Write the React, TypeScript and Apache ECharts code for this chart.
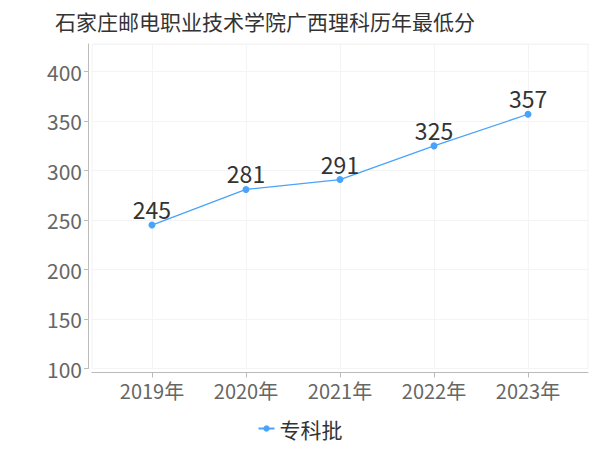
import React, { useEffect, useRef } from "react";
import * as echarts from "echarts";

const titleText = "石家庄邮电职业技术学院广西理科历年最低分";
const categories = ["2019年", "2020年", "2021年", "2022年", "2023年"];
const seriesName = "专科批";
const values = [245, 281, 291, 325, 357];

const FONT = "'Noto Sans CJK SC', 'Noto Sans', sans-serif";

export default function App() {
  const ref = useRef<HTMLDivElement>(null);
  useEffect(() => {
    document.body.style.margin = "0";
    const chart = echarts.init(ref.current!, null, { renderer: "svg" });
    const idx = categories.map((_, i) => i);
    chart.setOption({
      animation: false,
      textStyle: { fontFamily: FONT },
      title: {
        text: titleText,
        left: 50,
        top: 5,
        textStyle: { fontSize: 21, fontWeight: "normal", color: "#333", fontFamily: FONT },
      },
      legend: {
        bottom: 6,
        left: "center",
        itemWidth: 16,
        itemHeight: 8,
        itemGap: 6,
        textStyle: { fontSize: 21, color: "#333", fontFamily: FONT },
        data: [seriesName],
      },
      grid: {
        left: 92,
        right: 12,
        top: 44,
        bottom: 81.5,
        containLabel: false,
        show: true,
        borderWidth: 1,
        borderColor: "#f2f2f2",
      },
      xAxis: {
        type: "value",
        min: -0.638,
        max: 4.638,
        offset: 4,
        axisLine: { show: true, onZero: false, lineStyle: { color: "#bbb" } },
        axisTick: { show: true, length: 5, customValues: idx, lineStyle: { color: "#bbb" } },
        axisLabel: {
          customValues: idx,
          formatter: (v: number) => categories[Math.round(v)] ?? "",
          fontSize: 20,
          color: "#666",
          margin: 8,
          fontFamily: FONT,
        },
        splitLine: { show: true, lineStyle: { color: "#f4f4f4" } },
      },
      yAxis: {
        type: "value",
        min: 100,
        max: 428,
        interval: 50,
        offset: 4,
        axisLine: { show: true, onZero: false, lineStyle: { color: "#bbb" } },
        axisTick: { show: true, length: 4, lineStyle: { color: "#bbb" } },
        axisLabel: { fontSize: 21, color: "#666", margin: 6, showMaxLabel: false, fontFamily: FONT },
        splitLine: { show: true, lineStyle: { color: "#f4f4f4" } },
      },
      series: [
        {
          name: seriesName,
          type: "line",
          data: values.map((v, i) => [i, v]),
          symbol: "circle",
          symbolSize: 7,
          itemStyle: { color: "#4aa3fb" },
          lineStyle: { width: 1.3, color: "#4aa3fb" },
          label: { show: true, position: "top", distance: 1, fontSize: 23, color: "#333", fontFamily: FONT },
        },
      ],
    });
    return () => chart.dispose();
  }, []);
  return <div ref={ref} style={{ width: 600, height: 450 }} />;
}
